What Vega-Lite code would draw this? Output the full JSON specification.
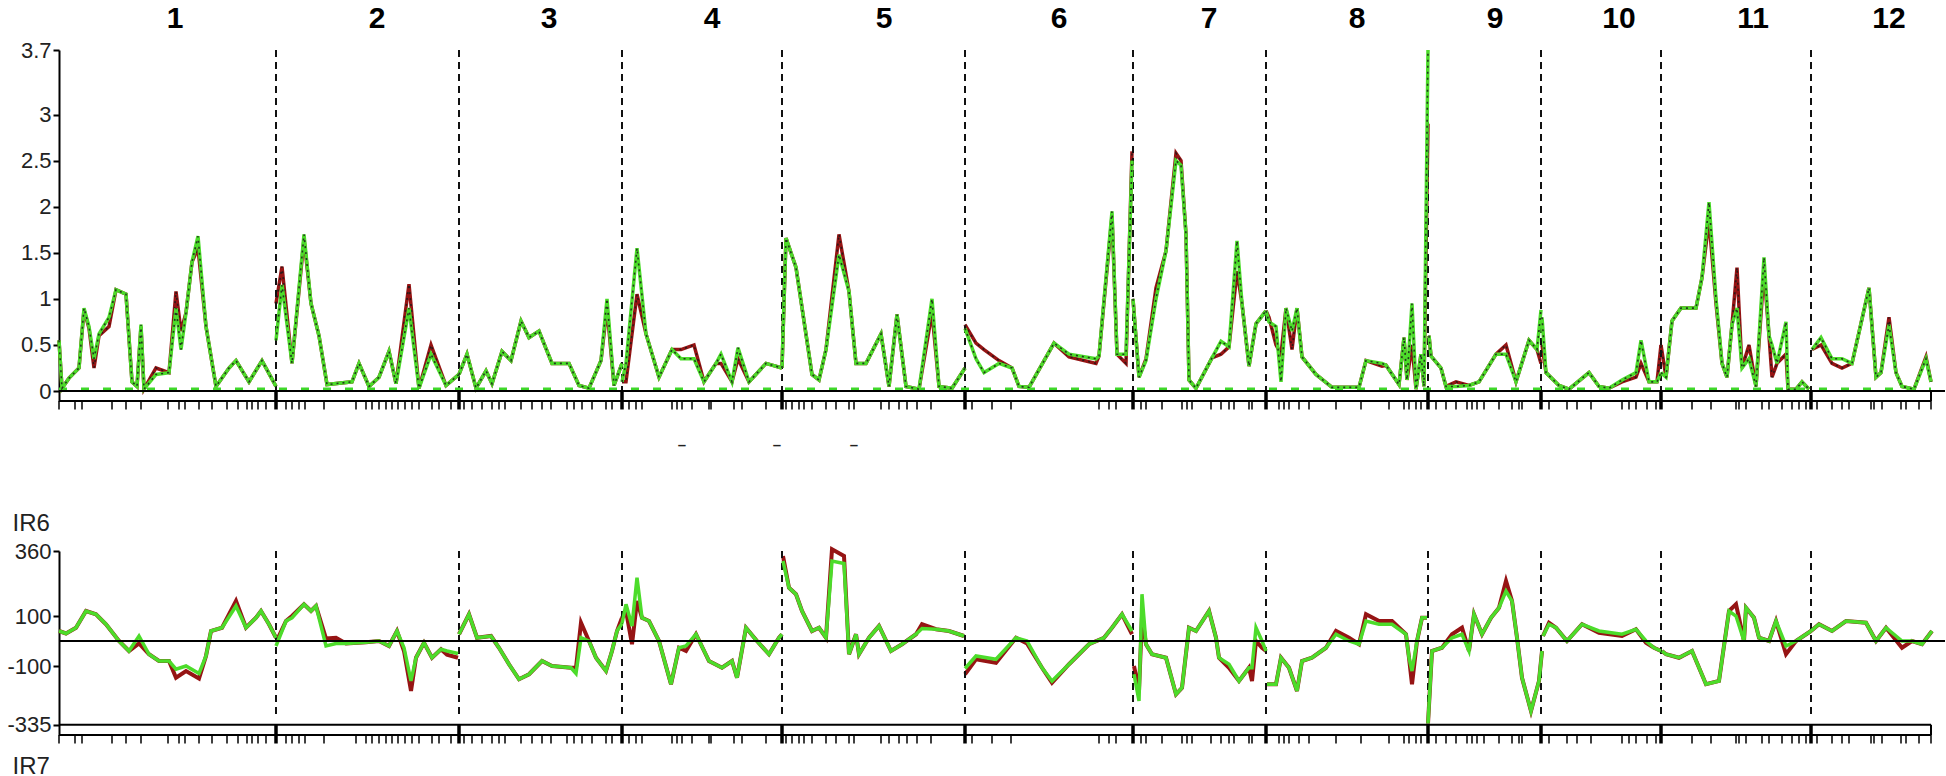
{
 "$schema": "https://vega.github.io/schema/vega-lite/v6.json",
 "padding": {"left": 6, "top": 3, "right": 0, "bottom": 0},
 "background": "white",
 "bounds": "flush",
 "spacing": 150,
 "config": {"view": {"stroke": null}, "font": "Liberation Sans"},
 "datasets": {
  "top": [
   {"c":1,"pos":0,"r":0.55,"g":0.55},{"c":1,"pos":3,"r":0.03,"g":0.03},{"c":1,"pos":10,"r":0.14,"g":0.14},{"c":1,"pos":20,"r":0.25,"g":0.25},{"c":1,"pos":25,"r":0.88,"g":0.9},{"c":1,"pos":30,"r":0.68,"g":0.7},{"c":1,"pos":35,"r":0.25,"g":0.35},{"c":1,"pos":40,"r":0.6,"g":0.62},{"c":1,"pos":50,"r":0.7,"g":0.8},{"c":1,"pos":57,"r":1.1,"g":1.1},{"c":1,"pos":67,"r":1.05,"g":1.05},{"c":1,"pos":73,"r":0.1,"g":0.1},{"c":1,"pos":78,"r":0.05,"g":0.05},{"c":1,"pos":82,"r":0.7,"g":0.72},{"c":1,"pos":85,"r":0.02,"g":0.02},{"c":1,"pos":97,"r":0.25,"g":0.18},{"c":1,"pos":110,"r":0.2,"g":0.2},{"c":1,"pos":117,"r":1.08,"g":0.9},{"c":1,"pos":122,"r":0.65,"g":0.45},{"c":1,"pos":127,"r":0.85,"g":0.85},{"c":1,"pos":133,"r":1.4,"g":1.4},{"c":1,"pos":139,"r":1.55,"g":1.68},{"c":1,"pos":147,"r":0.7,"g":0.7},{"c":1,"pos":157,"r":0.05,"g":0.05},{"c":1,"pos":170,"r":0.25,"g":0.25},{"c":1,"pos":177,"r":0.33,"g":0.33},{"c":1,"pos":190,"r":0.1,"g":0.1},{"c":1,"pos":203,"r":0.33,"g":0.33},{"c":1,"pos":217,"r":0.05,"g":0.05},
   {"c":2,"pos":217,"r":0.95,"g":0.55},{"c":2,"pos":223,"r":1.35,"g":1.15},{"c":2,"pos":233,"r":0.3,"g":0.3},{"c":2,"pos":245,"r":1.65,"g":1.7},{"c":2,"pos":252,"r":0.95,"g":0.95},{"c":2,"pos":260,"r":0.6,"g":0.6},{"c":2,"pos":268,"r":0.07,"g":0.07},{"c":2,"pos":293,"r":0.1,"g":0.1},{"c":2,"pos":300,"r":0.3,"g":0.3},{"c":2,"pos":310,"r":0.05,"g":0.05},{"c":2,"pos":320,"r":0.15,"g":0.15},{"c":2,"pos":330,"r":0.43,"g":0.43},{"c":2,"pos":337,"r":0.08,"g":0.08},{"c":2,"pos":350,"r":1.16,"g":0.9},{"c":2,"pos":360,"r":0.03,"g":0.03},{"c":2,"pos":372,"r":0.5,"g":0.4},{"c":2,"pos":387,"r":0.06,"g":0.06},{"c":2,"pos":400,"r":0.18,"g":0.18},
   {"c":3,"pos":400,"r":0.18,"g":0.18},{"c":3,"pos":408,"r":0.4,"g":0.4},{"c":3,"pos":417,"r":0.03,"g":0.03},{"c":3,"pos":427,"r":0.22,"g":0.22},{"c":3,"pos":433,"r":0.08,"g":0.08},{"c":3,"pos":443,"r":0.43,"g":0.43},{"c":3,"pos":452,"r":0.33,"g":0.33},{"c":3,"pos":462,"r":0.76,"g":0.76},{"c":3,"pos":470,"r":0.58,"g":0.58},{"c":3,"pos":480,"r":0.65,"g":0.65},{"c":3,"pos":493,"r":0.3,"g":0.3},{"c":3,"pos":510,"r":0.3,"g":0.3},{"c":3,"pos":520,"r":0.06,"g":0.06},{"c":3,"pos":530,"r":0.03,"g":0.03},{"c":3,"pos":542,"r":0.33,"g":0.33},{"c":3,"pos":548,"r":0.9,"g":1.0},{"c":3,"pos":555,"r":0.06,"g":0.06},{"c":3,"pos":563,"r":0.3,"g":0.3},
   {"c":4,"pos":563,"r":0.1,"g":0.1},{"c":4,"pos":567,"r":0.1,"g":0.3},{"c":4,"pos":578,"r":1.05,"g":1.55},{"c":4,"pos":587,"r":0.62,"g":0.62},{"c":4,"pos":600,"r":0.15,"g":0.15},{"c":4,"pos":613,"r":0.45,"g":0.45},{"c":4,"pos":622,"r":0.45,"g":0.35},{"c":4,"pos":635,"r":0.5,"g":0.35},{"c":4,"pos":645,"r":0.1,"g":0.1},{"c":4,"pos":657,"r":0.3,"g":0.3},{"c":4,"pos":662,"r":0.3,"g":0.4},{"c":4,"pos":673,"r":0.1,"g":0.1},{"c":4,"pos":679,"r":0.35,"g":0.47},{"c":4,"pos":690,"r":0.1,"g":0.1},{"c":4,"pos":707,"r":0.3,"g":0.3},{"c":4,"pos":723,"r":0.25,"g":0.25},
   {"c":5,"pos":723,"r":0.25,"g":0.25},{"c":5,"pos":727,"r":1.66,"g":1.66},{"c":5,"pos":737,"r":1.34,"g":1.34},{"c":5,"pos":753,"r":0.18,"g":0.18},{"c":5,"pos":760,"r":0.12,"g":0.12},{"c":5,"pos":767,"r":0.45,"g":0.45},{"c":5,"pos":780,"r":1.7,"g":1.48},{"c":5,"pos":790,"r":1.08,"g":1.08},{"c":5,"pos":797,"r":0.3,"g":0.3},{"c":5,"pos":807,"r":0.3,"g":0.3},{"c":5,"pos":822,"r":0.62,"g":0.62},{"c":5,"pos":830,"r":0.05,"g":0.05},{"c":5,"pos":838,"r":0.83,"g":0.83},{"c":5,"pos":847,"r":0.05,"g":0.05},{"c":5,"pos":860,"r":0.02,"g":0.02},{"c":5,"pos":873,"r":0.85,"g":1.0},{"c":5,"pos":880,"r":0.05,"g":0.05},{"c":5,"pos":893,"r":0.03,"g":0.03},{"c":5,"pos":906,"r":0.25,"g":0.25},
   {"c":6,"pos":906,"r":0.72,"g":0.68},{"c":6,"pos":917,"r":0.52,"g":0.35},{"c":6,"pos":925,"r":0.45,"g":0.2},{"c":6,"pos":940,"r":0.33,"g":0.3},{"c":6,"pos":953,"r":0.25,"g":0.25},{"c":6,"pos":960,"r":0.05,"g":0.05},{"c":6,"pos":970,"r":0.04,"g":0.04},{"c":6,"pos":995,"r":0.52,"g":0.52},{"c":6,"pos":1010,"r":0.37,"g":0.4},{"c":6,"pos":1037,"r":0.3,"g":0.35},{"c":6,"pos":1040,"r":0.38,"g":0.38},{"c":6,"pos":1053,"r":1.9,"g":1.95},{"c":6,"pos":1058,"r":0.4,"g":0.4},{"c":6,"pos":1067,"r":0.3,"g":0.4},{"c":6,"pos":1073,"r":2.6,"g":2.5},
   {"c":7,"pos":1074,"r":1.0,"g":1.0},{"c":7,"pos":1080,"r":0.15,"g":0.15},{"c":7,"pos":1087,"r":0.35,"g":0.33},{"c":7,"pos":1097,"r":1.12,"g":1.0},{"c":7,"pos":1107,"r":1.52,"g":1.52},{"c":7,"pos":1117,"r":2.58,"g":2.5},{"c":7,"pos":1122,"r":2.5,"g":2.45},{"c":7,"pos":1127,"r":1.7,"g":1.7},{"c":7,"pos":1130,"r":0.12,"g":0.12},{"c":7,"pos":1137,"r":0.03,"g":0.03},{"c":7,"pos":1153,"r":0.36,"g":0.36},{"c":7,"pos":1162,"r":0.4,"g":0.54},{"c":7,"pos":1170,"r":0.48,"g":0.48},{"c":7,"pos":1178,"r":1.3,"g":1.63},{"c":7,"pos":1183,"r":0.95,"g":0.95},{"c":7,"pos":1190,"r":0.27,"g":0.27},{"c":7,"pos":1197,"r":0.73,"g":0.73},{"c":7,"pos":1207,"r":0.87,"g":0.87},
   {"c":8,"pos":1207,"r":0.87,"g":0.87},{"c":8,"pos":1210,"r":0.8,"g":0.75},{"c":8,"pos":1217,"r":0.5,"g":0.7},{"c":8,"pos":1222,"r":0.4,"g":0.1},{"c":8,"pos":1227,"r":0.9,"g":0.9},{"c":8,"pos":1233,"r":0.45,"g":0.65},{"c":8,"pos":1238,"r":0.9,"g":0.9},{"c":8,"pos":1243,"r":0.37,"g":0.37},{"c":8,"pos":1257,"r":0.18,"g":0.18},{"c":8,"pos":1273,"r":0.04,"g":0.04},{"c":8,"pos":1300,"r":0.04,"g":0.04},{"c":8,"pos":1307,"r":0.33,"g":0.33},{"c":8,"pos":1323,"r":0.27,"g":0.3},{"c":8,"pos":1327,"r":0.28,"g":0.28},{"c":8,"pos":1340,"r":0.07,"g":0.07},{"c":8,"pos":1345,"r":0.58,"g":0.58},{"c":8,"pos":1348,"r":0.12,"g":0.12},{"c":8,"pos":1353,"r":0.5,"g":0.95},{"c":8,"pos":1357,"r":0.02,"g":0.02},{"c":8,"pos":1362,"r":0.4,"g":0.4},{"c":8,"pos":1365,"r":0.05,"g":0.05},{"c":8,"pos":1369,"r":2.9,"g":3.7},
   {"c":9,"pos":1370,"r":0.6,"g":0.6},{"c":9,"pos":1372,"r":0.38,"g":0.38},{"c":9,"pos":1382,"r":0.25,"g":0.25},{"c":9,"pos":1387,"r":0.05,"g":0.05},{"c":9,"pos":1397,"r":0.1,"g":0.05},{"c":9,"pos":1410,"r":0.06,"g":0.06},{"c":9,"pos":1420,"r":0.1,"g":0.1},{"c":9,"pos":1437,"r":0.4,"g":0.4},{"c":9,"pos":1447,"r":0.5,"g":0.4},{"c":9,"pos":1457,"r":0.1,"g":0.1},{"c":9,"pos":1470,"r":0.55,"g":0.55},{"c":9,"pos":1478,"r":0.45,"g":0.45},{"c":9,"pos":1482,"r":0.3,"g":0.88},
   {"c":10,"pos":1483,"r":0.5,"g":0.8},{"c":10,"pos":1487,"r":0.2,"g":0.2},{"c":10,"pos":1500,"r":0.06,"g":0.06},{"c":10,"pos":1510,"r":0.02,"g":0.02},{"c":10,"pos":1530,"r":0.2,"g":0.2},{"c":10,"pos":1540,"r":0.05,"g":0.05},{"c":10,"pos":1550,"r":0.03,"g":0.03},{"c":10,"pos":1563,"r":0.1,"g":0.12},{"c":10,"pos":1577,"r":0.15,"g":0.2},{"c":10,"pos":1582,"r":0.3,"g":0.55},{"c":10,"pos":1590,"r":0.1,"g":0.1},{"c":10,"pos":1598,"r":0.1,"g":0.1},{"c":10,"pos":1602,"r":0.5,"g":0.2},
   {"c":11,"pos":1602,"r":0.5,"g":0.2},{"c":11,"pos":1607,"r":0.15,"g":0.15},{"c":11,"pos":1613,"r":0.76,"g":0.76},{"c":11,"pos":1622,"r":0.9,"g":0.9},{"c":11,"pos":1637,"r":0.9,"g":0.9},{"c":11,"pos":1643,"r":1.23,"g":1.23},{"c":11,"pos":1650,"r":1.85,"g":2.05},{"c":11,"pos":1657,"r":0.95,"g":1.0},{"c":11,"pos":1663,"r":0.3,"g":0.3},{"c":11,"pos":1668,"r":0.15,"g":0.15},{"c":11,"pos":1673,"r":0.72,"g":0.72},{"c":11,"pos":1678,"r":1.34,"g":0.9},{"c":11,"pos":1683,"r":0.25,"g":0.25},{"c":11,"pos":1690,"r":0.5,"g":0.35},{"c":11,"pos":1697,"r":0.05,"g":0.05},{"c":11,"pos":1705,"r":1.3,"g":1.45},{"c":11,"pos":1710,"r":0.6,"g":0.6},{"c":11,"pos":1713,"r":0.15,"g":0.5},{"c":11,"pos":1718,"r":0.3,"g":0.3},{"c":11,"pos":1727,"r":0.4,"g":0.75},{"c":11,"pos":1729,"r":0.02,"g":0.02},{"c":11,"pos":1737,"r":0.02,"g":0.02},{"c":11,"pos":1743,"r":0.1,"g":0.1},{"c":11,"pos":1750,"r":0.02,"g":0.02},
   {"c":12,"pos":1753,"r":0.45,"g":0.45},{"c":12,"pos":1762,"r":0.5,"g":0.58},{"c":12,"pos":1773,"r":0.3,"g":0.35},{"c":12,"pos":1783,"r":0.25,"g":0.35},{"c":12,"pos":1793,"r":0.3,"g":0.3},{"c":12,"pos":1810,"r":1.12,"g":1.12},{"c":12,"pos":1817,"r":0.15,"g":0.15},{"c":12,"pos":1822,"r":0.2,"g":0.2},{"c":12,"pos":1830,"r":0.8,"g":0.72},{"c":12,"pos":1837,"r":0.2,"g":0.2},{"c":12,"pos":1843,"r":0.05,"g":0.05},{"c":12,"pos":1855,"r":0.02,"g":0.02},{"c":12,"pos":1867,"r":0.37,"g":0.35},{"c":12,"pos":1872,"r":0.1,"g":0.1}
  ],
  "bottom": [
   {"c":1,"pos":0,"r":40,"g":40},{"c":1,"pos":7,"r":30,"g":30},{"c":1,"pos":17,"r":53,"g":53},{"c":1,"pos":27,"r":120,"g":120},{"c":1,"pos":37,"r":107,"g":107},{"c":1,"pos":47,"r":67,"g":67},{"c":1,"pos":60,"r":0,"g":0},{"c":1,"pos":70,"r":-40,"g":-40},{"c":1,"pos":80,"r":-10,"g":20},{"c":1,"pos":90,"r":-53,"g":-53},{"c":1,"pos":100,"r":-80,"g":-80},{"c":1,"pos":110,"r":-80,"g":-80},{"c":1,"pos":117,"r":-147,"g":-113},{"c":1,"pos":127,"r":-120,"g":-100},{"c":1,"pos":140,"r":-150,"g":-130},{"c":1,"pos":147,"r":-60,"g":-60},{"c":1,"pos":152,"r":40,"g":40},{"c":1,"pos":163,"r":53,"g":53},{"c":1,"pos":177,"r":160,"g":140},{"c":1,"pos":187,"r":53,"g":53},{"c":1,"pos":197,"r":93,"g":93},{"c":1,"pos":202,"r":120,"g":120},{"c":1,"pos":210,"r":67,"g":67},{"c":1,"pos":217,"r":13,"g":13},
   {"c":2,"pos":217,"r":-5,"g":-20},{"c":2,"pos":227,"r":80,"g":80},{"c":2,"pos":233,"r":100,"g":93},{"c":2,"pos":245,"r":147,"g":147},{"c":2,"pos":252,"r":120,"g":120},{"c":2,"pos":257,"r":140,"g":140},{"c":2,"pos":267,"r":10,"g":-20},{"c":2,"pos":277,"r":13,"g":-10},{"c":2,"pos":287,"r":-10,"g":-10},{"c":2,"pos":307,"r":-5,"g":-5},{"c":2,"pos":320,"r":0,"g":0},{"c":2,"pos":330,"r":-20,"g":-20},{"c":2,"pos":338,"r":40,"g":40},{"c":2,"pos":345,"r":-40,"g":-27},{"c":2,"pos":352,"r":-200,"g":-160},{"c":2,"pos":357,"r":-67,"g":-67},{"c":2,"pos":365,"r":-7,"g":-7},{"c":2,"pos":373,"r":-67,"g":-67},{"c":2,"pos":382,"r":-33,"g":-33},{"c":2,"pos":388,"r":-55,"g":-40},{"c":2,"pos":399,"r":-67,"g":-50},
   {"c":3,"pos":400,"r":27,"g":27},{"c":3,"pos":410,"r":107,"g":107},{"c":3,"pos":418,"r":13,"g":13},{"c":3,"pos":432,"r":20,"g":20},{"c":3,"pos":440,"r":-27,"g":-27},{"c":3,"pos":450,"r":-93,"g":-93},{"c":3,"pos":460,"r":-153,"g":-153},{"c":3,"pos":470,"r":-133,"g":-133},{"c":3,"pos":483,"r":-80,"g":-80},{"c":3,"pos":493,"r":-100,"g":-100},{"c":3,"pos":512,"r":-107,"g":-107},{"c":3,"pos":517,"r":-107,"g":-130},{"c":3,"pos":522,"r":73,"g":13},{"c":3,"pos":530,"r":0,"g":0},{"c":3,"pos":537,"r":-67,"g":-67},{"c":3,"pos":547,"r":-120,"g":-120},{"c":3,"pos":553,"r":-40,"g":-40},{"c":3,"pos":558,"r":40,"g":40},{"c":3,"pos":563,"r":93,"g":70},
   {"c":4,"pos":563,"r":93,"g":70},{"c":4,"pos":567,"r":120,"g":147},{"c":4,"pos":573,"r":-13,"g":60},{"c":4,"pos":578,"r":160,"g":253},{"c":4,"pos":583,"r":93,"g":93},{"c":4,"pos":590,"r":80,"g":80},{"c":4,"pos":600,"r":0,"g":0},{"c":4,"pos":612,"r":-173,"g":-173},{"c":4,"pos":620,"r":-27,"g":-27},{"c":4,"pos":627,"r":-40,"g":-20},{"c":4,"pos":637,"r":27,"g":27},{"c":4,"pos":650,"r":-80,"g":-80},{"c":4,"pos":663,"r":-107,"g":-107},{"c":4,"pos":673,"r":-80,"g":-80},{"c":4,"pos":678,"r":-147,"g":-147},{"c":4,"pos":687,"r":53,"g":53},{"c":4,"pos":698,"r":0,"g":0},{"c":4,"pos":710,"r":-53,"g":-53},{"c":4,"pos":720,"r":13,"g":13},{"c":4,"pos":723,"r":27,"g":27},
   {"c":5,"pos":724,"r":340,"g":320},{"c":5,"pos":730,"r":213,"g":213},{"c":5,"pos":737,"r":187,"g":187},{"c":5,"pos":743,"r":120,"g":120},{"c":5,"pos":753,"r":40,"g":40},{"c":5,"pos":760,"r":53,"g":53},{"c":5,"pos":767,"r":13,"g":13},{"c":5,"pos":773,"r":367,"g":320},{"c":5,"pos":785,"r":340,"g":310},{"c":5,"pos":790,"r":-53,"g":-53},{"c":5,"pos":797,"r":27,"g":27},{"c":5,"pos":800,"r":-53,"g":-53},{"c":5,"pos":810,"r":13,"g":13},{"c":5,"pos":820,"r":60,"g":60},{"c":5,"pos":832,"r":-40,"g":-40},{"c":5,"pos":843,"r":-13,"g":-13},{"c":5,"pos":857,"r":27,"g":27},{"c":5,"pos":863,"r":67,"g":50},{"c":5,"pos":877,"r":47,"g":47},{"c":5,"pos":890,"r":40,"g":40},{"c":5,"pos":905,"r":20,"g":20},
   {"c":6,"pos":906,"r":-133,"g":-110},{"c":6,"pos":917,"r":-73,"g":-60},{"c":6,"pos":937,"r":-87,"g":-73},{"c":6,"pos":957,"r":13,"g":13},{"c":6,"pos":968,"r":-10,"g":0},{"c":6,"pos":983,"r":-107,"g":-107},{"c":6,"pos":993,"r":-167,"g":-160},{"c":6,"pos":1010,"r":-93,"g":-93},{"c":6,"pos":1030,"r":-13,"g":-13},{"c":6,"pos":1045,"r":13,"g":13},{"c":6,"pos":1053,"r":53,"g":53},{"c":6,"pos":1063,"r":107,"g":107},{"c":6,"pos":1073,"r":27,"g":40},
   {"c":7,"pos":1075,"r":-100,"g":-133},{"c":7,"pos":1080,"r":-200,"g":-240},{"c":7,"pos":1083,"r":100,"g":187},{"c":7,"pos":1087,"r":-13,"g":-13},{"c":7,"pos":1093,"r":-53,"g":-53},{"c":7,"pos":1107,"r":-67,"g":-67},{"c":7,"pos":1117,"r":-213,"g":-213},{"c":7,"pos":1123,"r":-187,"g":-187},{"c":7,"pos":1130,"r":53,"g":53},{"c":7,"pos":1137,"r":40,"g":40},{"c":7,"pos":1150,"r":120,"g":120},{"c":7,"pos":1157,"r":13,"g":13},{"c":7,"pos":1160,"r":-67,"g":-67},{"c":7,"pos":1170,"r":-107,"g":-93},{"c":7,"pos":1180,"r":-160,"g":-160},{"c":7,"pos":1190,"r":-107,"g":-107},{"c":7,"pos":1193,"r":-160,"g":-107},{"c":7,"pos":1197,"r":0,"g":53},{"c":7,"pos":1203,"r":-27,"g":0},{"c":7,"pos":1207,"r":-40,"g":-40},
   {"c":8,"pos":1208,"r":-173,"g":-173},{"c":8,"pos":1217,"r":-173,"g":-173},{"c":8,"pos":1222,"r":-67,"g":-67},{"c":8,"pos":1230,"r":-107,"g":-107},{"c":8,"pos":1238,"r":-200,"g":-200},{"c":8,"pos":1243,"r":-80,"g":-80},{"c":8,"pos":1253,"r":-67,"g":-67},{"c":8,"pos":1267,"r":-27,"g":-27},{"c":8,"pos":1277,"r":40,"g":27},{"c":8,"pos":1290,"r":13,"g":0},{"c":8,"pos":1300,"r":-13,"g":-13},{"c":8,"pos":1307,"r":107,"g":80},{"c":8,"pos":1320,"r":80,"g":67},{"c":8,"pos":1333,"r":80,"g":67},{"c":8,"pos":1347,"r":27,"g":27},{"c":8,"pos":1350,"r":-67,"g":-67},{"c":8,"pos":1353,"r":-173,"g":-120},{"c":8,"pos":1358,"r":0,"g":0},{"c":8,"pos":1363,"r":93,"g":93},{"c":8,"pos":1368,"r":93,"g":93},
   {"c":9,"pos":1369,"r":-330,"g":-330},{"c":9,"pos":1373,"r":-40,"g":-40},{"c":9,"pos":1383,"r":-27,"g":-27},{"c":9,"pos":1393,"r":27,"g":13},{"c":9,"pos":1403,"r":53,"g":27},{"c":9,"pos":1410,"r":-40,"g":-40},{"c":9,"pos":1415,"r":107,"g":107},{"c":9,"pos":1423,"r":27,"g":27},{"c":9,"pos":1432,"r":93,"g":93},{"c":9,"pos":1440,"r":133,"g":133},{"c":9,"pos":1447,"r":240,"g":200},{"c":9,"pos":1453,"r":160,"g":160},{"c":9,"pos":1458,"r":13,"g":13},{"c":9,"pos":1463,"r":-147,"g":-147},{"c":9,"pos":1472,"r":-280,"g":-280},{"c":9,"pos":1480,"r":-160,"g":-160},{"c":9,"pos":1483,"r":-40,"g":-40},
   {"c":10,"pos":1484,"r":20,"g":20},{"c":10,"pos":1490,"r":73,"g":67},{"c":10,"pos":1497,"r":53,"g":53},{"c":10,"pos":1508,"r":0,"g":0},{"c":10,"pos":1523,"r":67,"g":67},{"c":10,"pos":1540,"r":33,"g":40},{"c":10,"pos":1563,"r":20,"g":27},{"c":10,"pos":1577,"r":47,"g":47},{"c":10,"pos":1587,"r":-7,"g":0},{"c":10,"pos":1595,"r":-27,"g":-27},{"c":10,"pos":1602,"r":-40,"g":-40},
   {"c":11,"pos":1603,"r":-40,"g":-40},{"c":11,"pos":1607,"r":-53,"g":-53},{"c":11,"pos":1620,"r":-67,"g":-67},{"c":11,"pos":1633,"r":-40,"g":-40},{"c":11,"pos":1647,"r":-173,"g":-173},{"c":11,"pos":1660,"r":-160,"g":-160},{"c":11,"pos":1670,"r":120,"g":120},{"c":11,"pos":1677,"r":147,"g":100},{"c":11,"pos":1685,"r":0,"g":0},{"c":11,"pos":1687,"r":133,"g":133},{"c":11,"pos":1695,"r":93,"g":93},{"c":11,"pos":1700,"r":13,"g":13},{"c":11,"pos":1710,"r":0,"g":0},{"c":11,"pos":1717,"r":80,"g":80},{"c":11,"pos":1727,"r":-53,"g":-20},{"c":11,"pos":1737,"r":0,"g":0},{"c":11,"pos":1752,"r":40,"g":40},
   {"c":12,"pos":1752,"r":40,"g":40},{"c":12,"pos":1760,"r":67,"g":67},{"c":12,"pos":1773,"r":40,"g":40},{"c":12,"pos":1787,"r":80,"g":80},{"c":12,"pos":1807,"r":73,"g":73},{"c":12,"pos":1817,"r":0,"g":0},{"c":12,"pos":1827,"r":53,"g":53},{"c":12,"pos":1843,"r":-27,"g":0},{"c":12,"pos":1853,"r":0,"g":0},{"c":12,"pos":1863,"r":-13,"g":-13},{"c":12,"pos":1873,"r":40,"g":40}
  ],
  "bounds": [{"pos":217},{"pos":400},{"pos":563},{"pos":723},{"pos":906},{"pos":1074},{"pos":1207},{"pos":1369},{"pos":1482},{"pos":1602},{"pos":1752}],
  "labels": [{"pos":116,"name":"1"},{"pos":318,"name":"2"},{"pos":490,"name":"3"},{"pos":653,"name":"4"},{"pos":825,"name":"5"},{"pos":1000,"name":"6"},{"pos":1150,"name":"7"},{"pos":1298,"name":"8"},{"pos":1436,"name":"9"},{"pos":1560,"name":"10"},{"pos":1694,"name":"11"},{"pos":1830,"name":"12"}],
  "markers": [{"pos":0},{"pos":16},{"pos":23},{"pos":53},{"pos":67},{"pos":82},{"pos":109},{"pos":120},{"pos":126},{"pos":140},{"pos":153},{"pos":168},{"pos":179},{"pos":188},{"pos":193},{"pos":199},{"pos":207},
   {"pos":227},{"pos":233},{"pos":240},{"pos":246},{"pos":265},{"pos":297},{"pos":307},{"pos":313},{"pos":320},{"pos":327},{"pos":333},{"pos":339},{"pos":346},{"pos":353},{"pos":360},{"pos":373},{"pos":380},{"pos":392},
   {"pos":405},{"pos":413},{"pos":423},{"pos":433},{"pos":440},{"pos":446},{"pos":462},{"pos":473},{"pos":483},{"pos":492},{"pos":508},{"pos":515},{"pos":523},{"pos":533},{"pos":547},{"pos":553},
   {"pos":570},{"pos":577},{"pos":583},{"pos":613},{"pos":618},{"pos":623},{"pos":633},{"pos":650},{"pos":652},{"pos":675},{"pos":683},{"pos":707},
   {"pos":727},{"pos":733},{"pos":740},{"pos":745},{"pos":753},{"pos":767},{"pos":777},{"pos":790},{"pos":795},{"pos":822},{"pos":830},{"pos":840},{"pos":848},{"pos":858},{"pos":872},
   {"pos":913},{"pos":933},{"pos":952},{"pos":1040},{"pos":1050},{"pos":1057},
   {"pos":1082},{"pos":1087},{"pos":1103},{"pos":1123},{"pos":1128},{"pos":1133},{"pos":1152},{"pos":1162},{"pos":1170},{"pos":1175},{"pos":1190},{"pos":1193},
   {"pos":1220},{"pos":1225},{"pos":1230},{"pos":1240},{"pos":1250},{"pos":1277},{"pos":1302},{"pos":1330},{"pos":1345},{"pos":1350},{"pos":1357},{"pos":1362},
   {"pos":1377},{"pos":1387},{"pos":1397},{"pos":1408},{"pos":1413},{"pos":1418},{"pos":1425},{"pos":1440},{"pos":1453},{"pos":1460},{"pos":1463},
   {"pos":1490},{"pos":1508},{"pos":1518},{"pos":1532},{"pos":1563},{"pos":1570},{"pos":1577},{"pos":1588},{"pos":1597},
   {"pos":1633},{"pos":1652},{"pos":1677},{"pos":1680},{"pos":1687},{"pos":1703},{"pos":1710},{"pos":1723},{"pos":1733},{"pos":1740},{"pos":1747},
   {"pos":1758},{"pos":1773},{"pos":1783},{"pos":1790},{"pos":1812},{"pos":1815},{"pos":1823},{"pos":1842},{"pos":1847},{"pos":1860},{"pos":1872}],
  "dashes": [{"pos":623},{"pos":718},{"pos":795}]
 },
 "vconcat": [
  {
   "width": 1886, "height": 351,
   "layer": [
    {
     "data": {"name": "top"},
     "mark": {"type": "line", "color": "#961414", "strokeWidth": 3.5},
     "encoding": {
      "x": {"field": "pos", "type": "quantitative", "scale": {"domain": [0, 1886], "nice": false, "zero": false}, "axis": null},
      "y": {"field": "r", "type": "quantitative", "scale": {"domain": [-0.108, 3.7], "nice": false, "zero": false},
       "axis": {"values": [0, 0.5, 1, 1.5, 2, 2.5, 3, 3.7], "labelExpr": "'' + datum.value", "orient": "left", "grid": false,
        "domainColor": "#000", "domainWidth": 2, "tickColor": "#000", "tickWidth": 2, "tickSize": 6,
        "labelFontSize": 22, "labelColor": "#222", "labelPadding": 2, "labelFont": "Liberation Sans", "labelOverlap": "greedy", "labelSeparation": -30,
        "title": "IR6", "titleAngle": 0, "titleX": -47, "titleY": 473, "titleAlign": "left", "titleBaseline": "middle",
        "titleFontSize": 24, "titleFontWeight": "normal", "titleColor": "#222", "titleFont": "Liberation Sans"}},
      "detail": {"field": "c"}
     }
    },
    {
     "data": {"name": "bounds"},
     "mark": {"type": "rule", "color": "#111", "strokeWidth": 2, "strokeDash": [7, 5]},
     "encoding": {
      "x": {"field": "pos", "type": "quantitative", "axis": null},
      "y": {"datum": 3.7, "type": "quantitative"},
      "y2": {"datum": 0}
     }
    },
    {
     "data": {"values": [{}]},
     "mark": {"type": "rule", "color": "#3fd82a", "strokeWidth": 2.5, "strokeDash": [8, 14]},
     "encoding": {"x": {"datum": 0, "type": "quantitative", "axis": null}, "x2": {"datum": 1872}, "y": {"datum": 0.025, "type": "quantitative"}}
    },
    {
     "data": {"name": "top"},
     "mark": {"type": "line", "color": "#1a1a1a", "strokeWidth": 1.6, "strokeDash": [2, 4], "opacity": 0.85},
     "encoding": {"x": {"field": "pos", "type": "quantitative", "axis": null}, "y": {"field": "r", "type": "quantitative"}, "detail": {"field": "c"}}
    },
    {
     "data": {"name": "top"},
     "mark": {"type": "line", "color": "#4cdc2a", "strokeWidth": 3.5},
     "encoding": {"x": {"field": "pos", "type": "quantitative", "axis": null}, "y": {"field": "g", "type": "quantitative"}, "detail": {"field": "c"}}
    },
    {
     "data": {"name": "top"},
     "mark": {"type": "line", "color": "#1a1a1a", "strokeWidth": 1.6, "strokeDash": [2, 4], "opacity": 0.85},
     "encoding": {"x": {"field": "pos", "type": "quantitative", "axis": null}, "y": {"field": "g", "type": "quantitative"}, "detail": {"field": "c"}}
    },
    {
     "data": {"values": [{}]},
     "mark": {"type": "rule", "color": "#000", "strokeWidth": 2},
     "encoding": {"y": {"datum": 0, "type": "quantitative"}}
    },
    {
     "data": {"values": [{}]},
     "mark": {"type": "rule", "color": "#000", "strokeWidth": 2},
     "encoding": {"x": {"datum": 0, "type": "quantitative", "axis": null}, "x2": {"datum": 1872}, "y": {"datum": -0.108, "type": "quantitative"}}
    },
    {
     "data": {"values": [{}]},
     "mark": {"type": "rule", "color": "#000", "strokeWidth": 2},
     "encoding": {"x": {"datum": 1872, "type": "quantitative", "axis": null}, "y": {"datum": 0, "type": "quantitative"}, "y2": {"datum": -0.108}}
    },
    {
     "data": {"name": "markers"},
     "mark": {"type": "rule", "color": "#000", "strokeWidth": 1.5},
     "encoding": {"x": {"field": "pos", "type": "quantitative", "axis": null}, "y": {"datum": -0.108, "type": "quantitative"}, "y2": {"datum": -0.2}}
    },
    {
     "data": {"name": "bounds"},
     "mark": {"type": "rule", "color": "#000", "strokeWidth": 3.5},
     "encoding": {"x": {"field": "pos", "type": "quantitative", "axis": null}, "y": {"datum": 0, "type": "quantitative"}, "y2": {"datum": -0.2}}
    },
    {
     "data": {"name": "labels"},
     "mark": {"type": "text", "font": "Liberation Sans", "fontWeight": "bold", "fontSize": 30, "color": "#000", "baseline": "middle", "align": "center"},
     "encoding": {"x": {"field": "pos", "type": "quantitative", "axis": null}, "y": {"datum": 4.04, "type": "quantitative"}, "text": {"field": "name"}}
    },
    {
     "data": {"name": "dashes"},
     "mark": {"type": "text", "font": "Liberation Sans", "fontWeight": "bold", "fontSize": 15, "color": "#222", "baseline": "middle", "align": "center"},
     "encoding": {"x": {"field": "pos", "type": "quantitative", "axis": null}, "y": {"datum": -0.585, "type": "quantitative"}, "text": {"value": "–"}}
    }
   ]
  },
  {
   "width": 1886, "height": 184,
   "layer": [
    {
     "data": {"name": "bottom"},
     "mark": {"type": "line", "color": "#961414", "strokeWidth": 4},
     "encoding": {
      "x": {"field": "pos", "type": "quantitative", "scale": {"domain": [0, 1886], "nice": false, "zero": false}, "axis": null},
      "y": {"field": "r", "type": "quantitative", "scale": {"domain": [-376, 360], "nice": false, "zero": false},
       "axis": {"values": [360, 200, 100, 0, -100, -200, -335], "labelExpr": "'' + datum.value", "orient": "left", "grid": false,
        "domainColor": "#000", "domainWidth": 2, "tickColor": "#000", "tickWidth": 2, "tickSize": 6,
        "labelFontSize": 22, "labelColor": "#222", "labelPadding": 2, "labelFont": "Liberation Sans", "labelOverlap": "greedy", "labelSeparation": -30,
        "title": "IR7", "titleAngle": 0, "titleX": -47, "titleY": 215, "titleAlign": "left", "titleBaseline": "middle",
        "titleFontSize": 24, "titleFontWeight": "normal", "titleColor": "#222", "titleFont": "Liberation Sans"}},
      "detail": {"field": "c"}
     }
    },
    {
     "data": {"name": "bounds"},
     "mark": {"type": "rule", "color": "#111", "strokeWidth": 2, "strokeDash": [7, 5]},
     "encoding": {
      "x": {"field": "pos", "type": "quantitative", "axis": null},
      "y": {"datum": 360, "type": "quantitative"},
      "y2": {"datum": -304}
     }
    },
    {
     "data": {"name": "bottom"},
     "mark": {"type": "line", "color": "#4cdc2a", "strokeWidth": 3.5},
     "encoding": {"x": {"field": "pos", "type": "quantitative", "axis": null}, "y": {"field": "g", "type": "quantitative"}, "detail": {"field": "c"}}
    },
    {
     "data": {"values": [{}]},
     "mark": {"type": "rule", "color": "#000", "strokeWidth": 2},
     "encoding": {"y": {"datum": 0, "type": "quantitative"}}
    },
    {
     "data": {"values": [{}]},
     "mark": {"type": "rule", "color": "#000", "strokeWidth": 2},
     "encoding": {"x": {"datum": 0, "type": "quantitative", "axis": null}, "x2": {"datum": 1872}, "y": {"datum": -335, "type": "quantitative"}}
    },
    {
     "data": {"values": [{}]},
     "mark": {"type": "rule", "color": "#000", "strokeWidth": 2},
     "encoding": {"x": {"datum": 0, "type": "quantitative", "axis": null}, "x2": {"datum": 1872}, "y": {"datum": -376, "type": "quantitative"}}
    },
    {
     "data": {"values": [{}]},
     "mark": {"type": "rule", "color": "#000", "strokeWidth": 2},
     "encoding": {"x": {"datum": 1872, "type": "quantitative", "axis": null}, "y": {"datum": -335, "type": "quantitative"}, "y2": {"datum": -376}}
    },
    {
     "data": {"name": "markers"},
     "mark": {"type": "rule", "color": "#000", "strokeWidth": 1.5},
     "encoding": {"x": {"field": "pos", "type": "quantitative", "axis": null}, "y": {"datum": -376, "type": "quantitative"}, "y2": {"datum": -410}}
    },
    {
     "data": {"name": "bounds"},
     "mark": {"type": "rule", "color": "#000", "strokeWidth": 3.5},
     "encoding": {"x": {"field": "pos", "type": "quantitative", "axis": null}, "y": {"datum": -335, "type": "quantitative"}, "y2": {"datum": -410}}
    }
   ]
  }
 ]
}
